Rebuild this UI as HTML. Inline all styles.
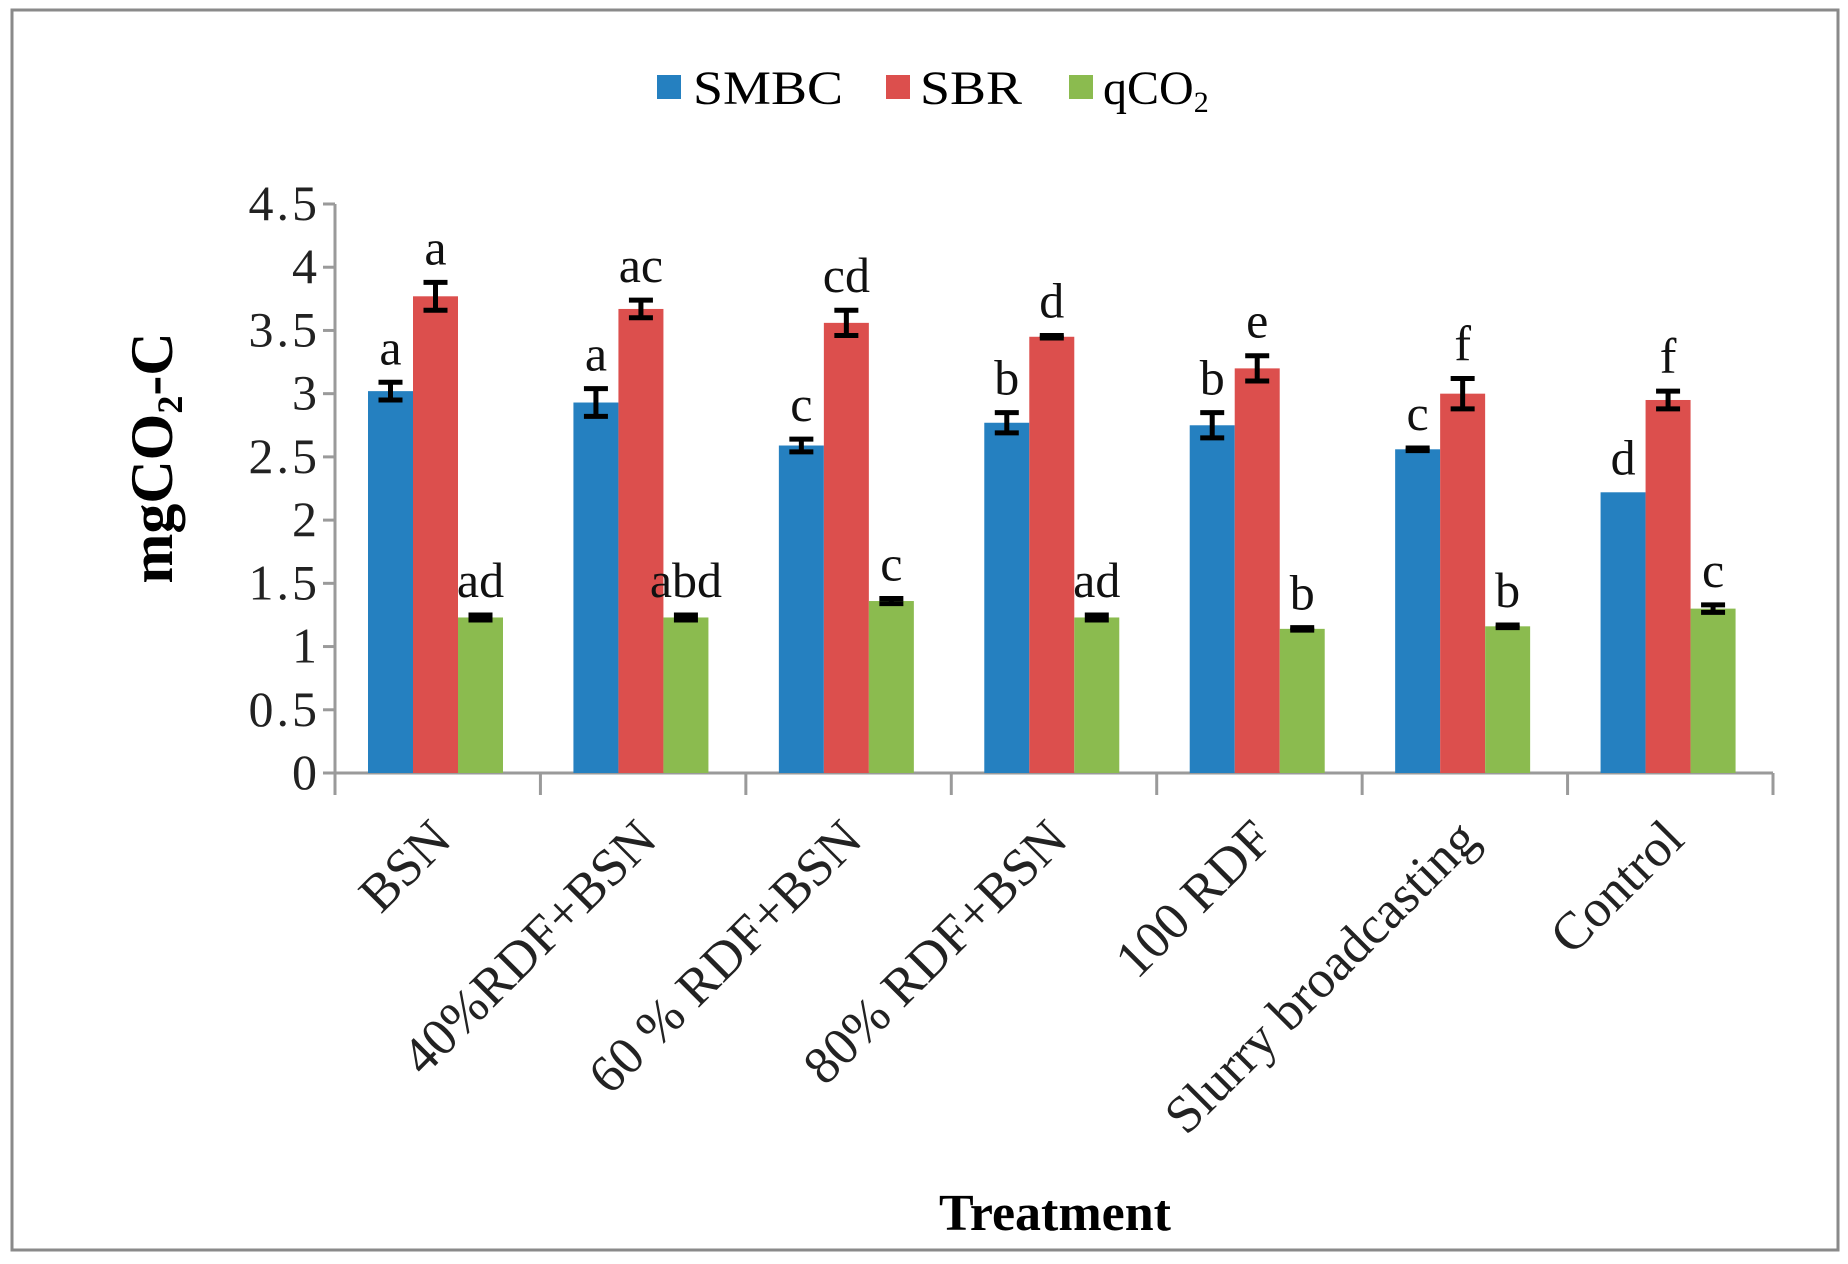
<!DOCTYPE html>
<html><head><meta charset="utf-8"><style>
html,body{margin:0;padding:0;background:#fff;}
svg{display:block;font-family:"Liberation Serif",serif;}
</style></head><body>
<svg id="chart" width="1848" height="1264" viewBox="0 0 1848 1264">
<rect x="12" y="10" width="1826" height="1240" fill="#fff" stroke="#8a8a8a" stroke-width="3"/>
<g>
 <g><rect x="657" y="75" width="24" height="24" fill="#2580c0"/><text x="693" y="104" font-size="48" textLength="150" lengthAdjust="spacingAndGlyphs">SMBC</text></g>
 <g><rect x="886" y="75" width="24" height="24" fill="#dc4f4d"/><text x="920" y="104" font-size="48" textLength="102" lengthAdjust="spacingAndGlyphs">SBR</text></g>
 <g><rect x="1069" y="75" width="24" height="24" fill="#8bbb4f"/><text x="1103" y="104" font-size="48">qCO<tspan font-size="30" dy="8">2</tspan></text></g>
</g>
<text transform="translate(172,458) rotate(-90)" text-anchor="middle" font-size="60" font-weight="bold">mgCO<tspan font-size="36" dy="10">2</tspan><tspan dy="-10">-C</tspan></text>
<text x="1055" y="1230" text-anchor="middle" font-size="52" font-weight="bold">Treatment</text>
<g id="axes"></g>
<g id="bars"></g>
</svg>
<script>
const categories = ["BSN","40%RDF+BSN","60 % RDF+BSN","80% RDF+BSN","100 RDF","Slurry broadcasting","Control"];
const smbc = [3.02,2.93,2.59,2.77,2.75,2.56,2.22];
const sbr = [3.77,3.67,3.56,3.45,3.20,3.00,2.95];
const qco2 = [1.23,1.23,1.36,1.23,1.14,1.16,1.30];
const smbcErr = [0.07,0.11,0.05,0.08,0.10,0.01,0];
const sbrErr = [0.11,0.07,0.10,0.01,0.10,0.12,0.07];
const qco2Err = [0.02,0.02,0.02,0.02,0.01,0.01,0.03];
const smbcLetters = ["a","a","c","b","b","c","d"];
const sbrLetters = ["a","ac","cd","d","e","f","f"];
const qco2Letters = ["ad","abd","c","ad","b","b","c"];
const yTicks = [0,0.5,1,1.5,2,2.5,3,3.5,4,4.5];
const yTickLabels = ["0","0.5","1","1.5","2","2.5","3","3.5","4","4.5"];

const NS="http://www.w3.org/2000/svg";
const X0=335, X1=1773, Y0=773, YTOP=204, YMAX=4.5;
const catW=(X1-X0)/categories.length;
const barW=45, offset=33;
function y(v){return Y0-(v/YMAX)*(Y0-YTOP);}
function xCat(i){return X0+i*catW;}
function mk(tag,attrs,parent){const e=document.createElementNS(NS,tag);for(const k in attrs)e.setAttribute(k,attrs[k]);parent.appendChild(e);return e;}
const axes=document.getElementById('axes'), bars=document.getElementById('bars');
let l=mk('line',{x1:X0,y1:YTOP,x2:X0,y2:Y0,stroke:'#9a9a9a','stroke-width':3},axes);


l=mk('line',{x1:X0-10,y1:Y0,x2:X1,y2:Y0,stroke:'#9a9a9a','stroke-width':3},axes);


yTicks.forEach((t,i)=>{
 const tk=mk('line',{x1:X0-12,y1:y(t),x2:X0,y2:y(t),stroke:'#9a9a9a','stroke-width':3},axes);
 
 
 const tx=mk('text',{x:320,y:y(t)+16,'text-anchor':'end','font-size':50,'letter-spacing':3,fill:'#222'},axes);
 tx.textContent=yTickLabels[i];
 
 
});
for(let i=0;i<=categories.length;i++){
 const tk=mk('line',{x1:xCat(i),y1:Y0,x2:xCat(i),y2:Y0+22,stroke:'#9a9a9a','stroke-width':3},axes);
 
 
}
categories.forEach((c,i)=>{
 const cx=xCat(i)+catW/2+16, cy=842;
 const tx=mk('text',{x:cx,y:cy,'text-anchor':'end','font-size':53,fill:'#222',transform:`rotate(-45 ${cx} ${cy})`},axes);
 tx.textContent=c;
 
 
});
const series=[[smbc,smbcErr,smbcLetters,'#2580c0','smbc'],[sbr,sbrErr,sbrLetters,'#dc4f4d','sbr'],[qco2,qco2Err,qco2Letters,'#8bbb4f','qco2']];
series.forEach(([vals,errs,lets,col,nm],s)=>{
 vals.forEach((v,i)=>{
  const bx=xCat(i)+offset+s*barW;
  const r=mk('rect',{x:bx,y:y(v),width:barW,height:Y0-y(v),fill:col},bars);
  
  
  const cx=bx+barW/2, e=errs[i];
  if(e>0){
   const g=mk('g',{stroke:'#000','stroke-width':5},bars);
   
   
   mk('line',{x1:cx,y1:y(v+e),x2:cx,y2:y(v-e)},g);
   mk('line',{x1:cx-12,y1:y(v+e),x2:cx+12,y2:y(v+e)},g);
   mk('line',{x1:cx-12,y1:y(v-e),x2:cx+12,y2:y(v-e)},g);
  }
  const tx=mk('text',{x:cx,y:y(v+e)-18,'text-anchor':'middle','font-size':50,fill:'#111'},bars);
  tx.textContent=lets[i];
  
  
 });
});
</script>
</body></html>
